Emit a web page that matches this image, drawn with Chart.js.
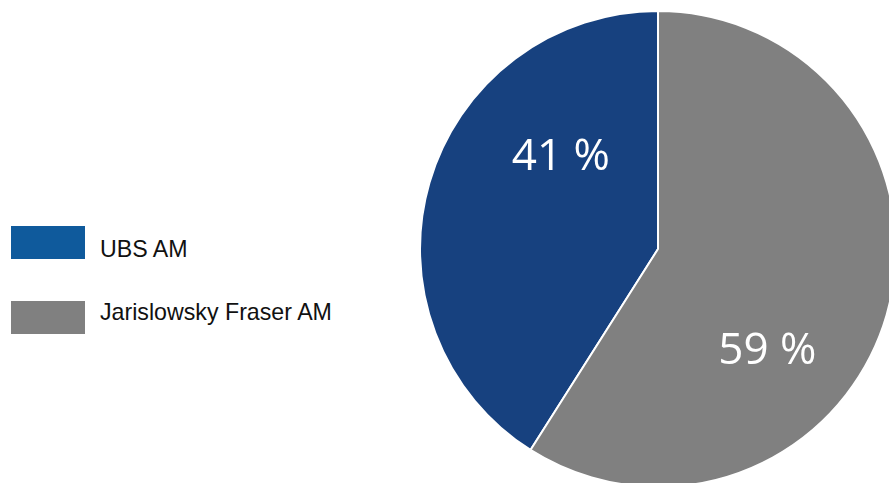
<!DOCTYPE html>
<html>
<head>
<meta charset="utf-8">
<script src="https://cdn.jsdelivr.net/npm/chart.js@4.4.1/dist/chart.umd.min.js"></script>
<style>
    html, body { margin: 0; padding: 0; width: 889px; height: 483px; overflow: hidden; background: #fff; }
    #legend { position: absolute; left: 0; top: 0; font-family: "Liberation Sans", Arial, sans-serif; font-size: 23.2px; color: #111; }
    .box { position: absolute; left: 11px; width: 74px; height: 33px; }
    .txt { position: absolute; left: 100px; line-height: 30px; white-space: nowrap; }
    #pieWrap { position: absolute; left: 419px; top: 10px; width: 478px; height: 478px; }
</style>
</head>
<body>
<div id="legend"></div>
<div id="pieWrap"><canvas id="pie"></canvas></div>
<script>
// Data
const labels = ['UBS AM', 'Jarislowsky Fraser AM'];
const shares = [41, 59];
const pieColors = ['#17417f', '#808080'];
const legendColors = ['#0f5a9c', '#808080'];
const labelTexts = ['41 %', '59 %'];
const labelRadius = [0.56, 0.63];   // fraction of the radius
const labelAngleShift = 27;         // degrees clockwise from slice middle

// Legend (boxes and texts are spaced differently in the original)
const legend = document.getElementById('legend');
labels.forEach((name, i) => {
    legend.innerHTML += `<div class="box" style="top:${226 + i * 75}px;background:${legendColors[i]}"></div>` +
        `<div class="txt" style="top:${234 + i * 63}px">${name}</div>`;
});

// Slice labels
const sliceLabels = {
    id: 'sliceLabels',
    afterDatasetsDraw(chart) {
        const ctx = chart.ctx;
        const meta = chart.getDatasetMeta(0);
        ctx.save();
        ctx.fillStyle = '#fff';
        ctx.font = '44px "Open Sans", sans-serif';
        ctx.textAlign = 'center';
        ctx.textBaseline = 'middle';
        meta.data.forEach((arc, i) => {
            const mid = (arc.startAngle + arc.endAngle) / 2 + labelAngleShift * Math.PI / 180;
            const r = arc.outerRadius * labelRadius[i];
            ctx.fillText(labelTexts[i], arc.x + Math.cos(mid) * r, arc.y + Math.sin(mid) * r);
        });
        ctx.restore();
    }
};

new Chart(document.getElementById('pie'), {
    type: 'pie',
    data: {
        labels: labels,
        datasets: [{
            data: shares,
            backgroundColor: pieColors,
            borderColor: '#fff',
            borderWidth: 2
        }]
    },
    options: {
        responsive: true,
        maintainAspectRatio: false,
        animation: false,
        rotation: shares[1] / 100 * 360,
        plugins: { legend: { display: false }, tooltip: { enabled: false } }
    },
    plugins: [sliceLabels]
});
</script>
</body>
</html>
